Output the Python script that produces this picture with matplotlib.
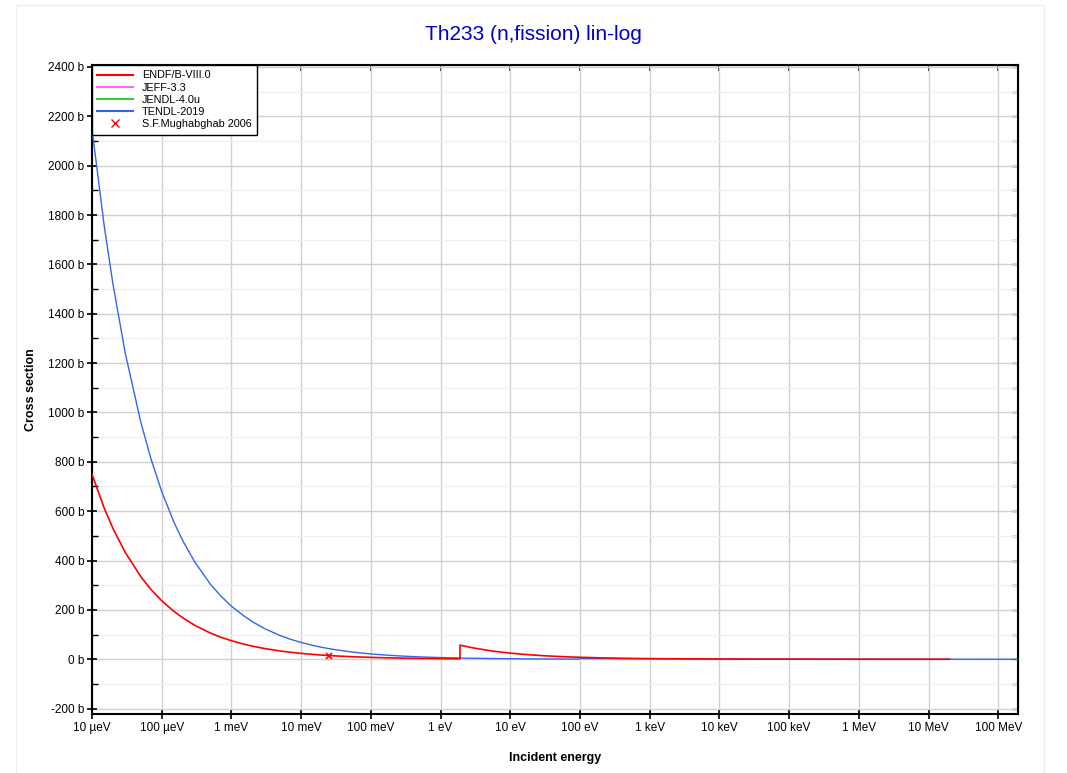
import matplotlib.pyplot as plt
from matplotlib.lines import Line2D
from matplotlib.patches import Rectangle
from matplotlib.ticker import FixedLocator, MultipleLocator, NullFormatter

plt.rcParams['font.family'] = ['Liberation Sans', 'DejaVu Sans']

# ENDF/B-VIII.0 (eV, barn)
endf_e = [1e-5, 1.5e-5, 2e-5, 3e-5, 5e-5, 7e-5,
          1e-4, 1.5e-4, 2e-4, 3e-4, 5e-4, 7e-4,
          1e-3, 1.5e-3, 2e-3, 3e-3, 5e-3, 7e-3,
          1e-2, 1.5e-2, 2e-2, 2.53e-2, 3e-2, 5e-2, 7e-2,
          0.1, 0.15, 0.2, 0.3, 0.5, 0.7, 1.0, 1.9,
          1.9001, 3.0, 5.0, 7.0, 10.0, 15.0, 20.0, 30.0, 50.0, 70.0, 100.0,
          200.0, 500.0, 1e3, 1e4, 1e5, 1e6, 1e7, 2e7]
endf_xs = [750, 612, 530, 433, 335, 283,
           237, 194, 168, 137, 106, 89.6,
           75, 61.2, 53, 43.3, 33.5, 28.3,
           23.7, 19.4, 16.8, 14.9, 13.7, 10.6, 8.96,
           7.5, 6.1, 5.3, 4.3, 3.4, 2.8, 2.4, 1.7,
           57, 45.4, 35.1, 29.7, 24.8, 20.3, 17.6, 14.3, 11.1, 9.4, 7.9,
           5.6, 3.5, 2.5, 0.8, 0.25, 0.08, 0.03, 0.02]

# TENDL-2019
tendl_e = [1e-5, 1.5e-5, 2e-5, 3e-5, 5e-5, 7e-5,
           1e-4, 1.5e-4, 2e-4, 3e-4, 5e-4, 7e-4,
           1e-3, 1.5e-3, 2e-3, 3e-3, 5e-3, 7e-3,
           1e-2, 1.5e-2, 2e-2, 3e-2, 5e-2, 7e-2,
           0.1, 0.15, 0.2, 0.3, 0.5, 0.7,
           1.0, 2.0, 5.0, 10.0, 20.0, 50.0, 95.0, 100.0,
           1e3, 1e4, 1e5, 1e6, 1e7, 1e8, 2e8]
tendl_xs = [2150, 1755, 1520, 1241, 962, 813,
            680, 555, 481, 393, 304, 257,
            215, 176, 152, 124, 96, 81,
            68, 55.5, 48, 39.3, 30.4, 25.7,
            21.5, 17.6, 15.2, 12.4, 9.6, 8.1,
            6.8, 4.8, 3.0, 2.15, 1.5, 0.96, 0.7, 3.0,
            2.0, 0.8, 0.3, 0.1, 0.05, 0.02, 0.02]

# S.F.Mughabghab 2006 thermal value
mugh_e = [0.0253]
mugh_xs = [15]

xticks = [1e-5, 1e-4, 1e-3, 1e-2, 1e-1, 1, 10, 1e2, 1e3, 1e4, 1e5, 1e6, 1e7, 1e8]
xlabels = ['10 µeV', '100 µeV', '1 meV', '10 meV', '100 meV', '1 eV', '10 eV',
           '100 eV', '1 keV', '10 keV', '100 keV', '1 MeV', '10 MeV', '100 MeV']

fig = plt.figure(figsize=(10.67, 7.73), dpi=100)
fig.patches.append(Rectangle((0.015, -0.01), 0.963, 1.003, transform=fig.transFigure,
                             fill=False, edgecolor='#eeeeee', linewidth=1))
ax = fig.add_axes([0.0862, 0.0763, 0.8683, 0.8396])

ax.plot(tendl_e, tendl_xs, color='#3366ee', linewidth=1, zorder=3)
ax.plot(endf_e, endf_xs, color='#ff0000', linewidth=1.2, zorder=4)
ax.plot(mugh_e, mugh_xs, 'x', color='#ff0000', markersize=4, markeredgewidth=1.2, zorder=5)

ax.set_xscale('log')
ax.set_xlim(1e-5, 1.95e8)
ax.set_ylim(-222, 2408)

ax.set_xticks(xticks)
ax.set_xticklabels(xlabels)
ax.xaxis.set_minor_locator(FixedLocator([]))
ax.yaxis.set_major_locator(MultipleLocator(200))
ax.yaxis.set_minor_locator(MultipleLocator(100))
ax.yaxis.set_major_formatter(lambda v, p: f'{v:.0f} b')

ax.grid(which='major', color='#d0d0d0', linewidth=1)
ax.grid(which='minor', axis='y', color='#f0f0f0', linewidth=1)
ax.set_axisbelow(True)

for s in ax.spines.values():
    s.set_linewidth(1.5)
ax.tick_params(which='major', direction='inout', length=7, width=1.2, labelsize=8.5,
               top=False, right=False, pad=2)
ax.tick_params(which='minor', direction='in', length=4, width=1)

# inward ticks on top and right edges
top = ax.secondary_xaxis('top')
top.set_xticks(xticks)
top.xaxis.set_minor_locator(FixedLocator([]))
top.xaxis.set_major_formatter(NullFormatter())
top.tick_params(direction='in', length=4, width=1.2)
right = ax.secondary_yaxis('right')
right.yaxis.set_major_locator(MultipleLocator(200))
right.yaxis.set_minor_locator(MultipleLocator(100))
right.yaxis.set_major_formatter(NullFormatter())
right.tick_params(which='both', direction='in', length=4, width=1)

ax.set_xlabel('Incident energy', fontsize=9, fontweight='bold', labelpad=13)
ax.set_ylabel('Cross section', fontsize=9, fontweight='bold', labelpad=8)
fig.suptitle('Th233 (n,fission) lin-log', color='#0000cc', fontsize=15, y=0.968)

handles = [
    Line2D([], [], color='#ff0000', linewidth=1.5),
    Line2D([], [], color='#ff66ff', linewidth=1.5),
    Line2D([], [], color='#33cc33', linewidth=1.5),
    Line2D([], [], color='#3366ee', linewidth=1.5),
    Line2D([], [], color='#ff0000', marker='x', linestyle='none', markersize=6),
]
labels = ['ENDF/B-VIII.0', 'JEFF-3.3', 'JENDL-4.0u', 'TENDL-2019', 'S.F.Mughabghab 2006']
leg = ax.legend(handles, labels, loc='upper left', fontsize=7.8, borderaxespad=0,
                fancybox=False, framealpha=1, edgecolor='black', handlelength=3.3,
                labelspacing=0.2, borderpad=0.5, handletextpad=0.8)
leg.get_frame().set_linewidth(1)

plt.savefig('out.png', dpi=100)
